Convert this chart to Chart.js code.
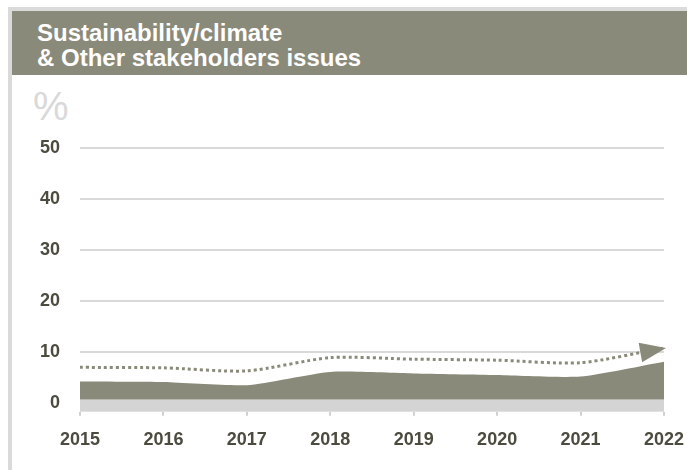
<!DOCTYPE html>
<html>
<head>
<meta charset="utf-8">
<script src="https://cdn.jsdelivr.net/npm/chart.js@4/dist/chart.umd.min.js"></script>
<style>
    body { margin: 0; background: #fff; font-family: "Liberation Sans", Arial, sans-serif; }
    .frame { position: absolute; left: 8px; top: 7px; width: 679px; height: 463px;
             border-top: 4px solid #dadada; border-left: 4px solid #dadada; }
    .header { position: absolute; left: 12px; top: 11px; width: 675px; height: 64px; background: #8a8a7a; }
    .header h1 { margin: 0; position: absolute; left: 25px; top: 9px; color: #fff;
                 font-size: 24px; line-height: 25px; font-weight: bold; }
    .unit { position: absolute; left: 33px; top: 84px; color: #d9d9d9; font-size: 40px; }
    .wrap { position: absolute; left: 12px; top: 75px; width: 675px; height: 395px; }
</style>
</head>
<body>
<div class="frame"></div>
<div class="header"><h1>Sustainability/climate<br>&amp; Other stakeholders issues</h1></div>
<div class="unit">%</div>
<div class="wrap"><canvas id="chart" width="675" height="395"></canvas></div>
<script>
// data
const years = ['2015', '2016', '2017', '2018', '2019', '2020', '2021', '2022'];
const actualShare = [4.2, 4.1, 3.5, 6.1, 5.8, 5.5, 5.2, 8.1];
const trendShare = [7.0, 6.9, 6.3, 8.9, 8.6, 8.4, 7.9, 10.8];
const yTicks = [0, 10, 20, 30, 40, 50];

const olive = '#8a8a7a';
const labelColor = '#4b4b3f';
const bandTop = 0.7;

// light grey strip along the bottom of the plot
const bandPlugin = {
    id: 'band',
    beforeDatasetsDraw(chart) {
        const { ctx, chartArea, scales } = chart;
        const top = scales.y.getPixelForValue(bandTop);
        ctx.save();
        ctx.fillStyle = '#d4d4d4';
        ctx.fillRect(chartArea.left, top, chartArea.right - chartArea.left, chartArea.bottom - top);
        ctx.restore();
    }
};

// arrow head at the end of the dotted trend line
const arrowPlugin = {
    id: 'arrow',
    afterDatasetsDraw(chart) {
        const pts = chart.getDatasetMeta(1).data;
        const end = pts[pts.length - 1];
        const prev = pts[pts.length - 2];
        const angle = Math.atan2(end.y - prev.y, end.x - prev.x);
        const ctx = chart.ctx;
        ctx.save();
        ctx.translate(end.x + 2, end.y);
        ctx.rotate(angle);
        ctx.fillStyle = olive;
        ctx.beginPath();
        ctx.moveTo(0, 0);
        ctx.lineTo(-26, -10);
        ctx.lineTo(-26, 10);
        ctx.closePath();
        ctx.fill();
        ctx.restore();
    }
};

const ctx = document.getElementById('chart').getContext('2d');
const chart = new Chart(ctx, {
    type: 'line',
    data: {
        labels: years,
        datasets: [{
            label: 'Actual',
            data: actualShare,
            backgroundColor: olive,
            borderWidth: 0,
            pointRadius: 0,
            tension: 0.2,
            fill: { value: bandTop }
        }, {
            label: 'Trend',
            data: trendShare,
            borderColor: olive,
            borderWidth: 3,
            borderDash: [3, 3],
            pointRadius: 0,
            tension: 0.25,
            fill: false
        }]
    },
    options: {
        responsive: false,
        animation: false,
        layout: { padding: { top: 73, right: 23, left: 0, bottom: 0 } },
        plugins: { legend: { display: false }, tooltip: { enabled: false } },
        scales: {
            x: {
                offset: false,
                grid: { drawOnChartArea: false, drawTicks: true, tickLength: 4, color: '#d0d0d0', lineWidth: 2 },
                border: { display: false },
                ticks: { color: labelColor, font: { family: 'Liberation Sans', size: 18, weight: 'bold' }, padding: 14, maxRotation: 0 },
                afterFit(scale) {
                    scale.height = 58.3;
                    scale.paddingLeft = 0;
                    scale.paddingRight = 0;
                }
            },
            y: {
                min: -1.7,
                max: 50,
                afterBuildTicks(scale) { scale.ticks = yTicks.map(v => ({ value: v })); },
                grid: { color: '#d9d9d9', lineWidth: 2, drawTicks: false },
                border: { display: false },
                ticks: { color: labelColor, font: { family: 'Liberation Sans', size: 18, weight: 'bold' }, padding: 20 },
                afterFit(scale) { scale.width = 68; }
            }
        }
    },
    plugins: [bandPlugin, arrowPlugin]
});
</script>
</body>
</html>
